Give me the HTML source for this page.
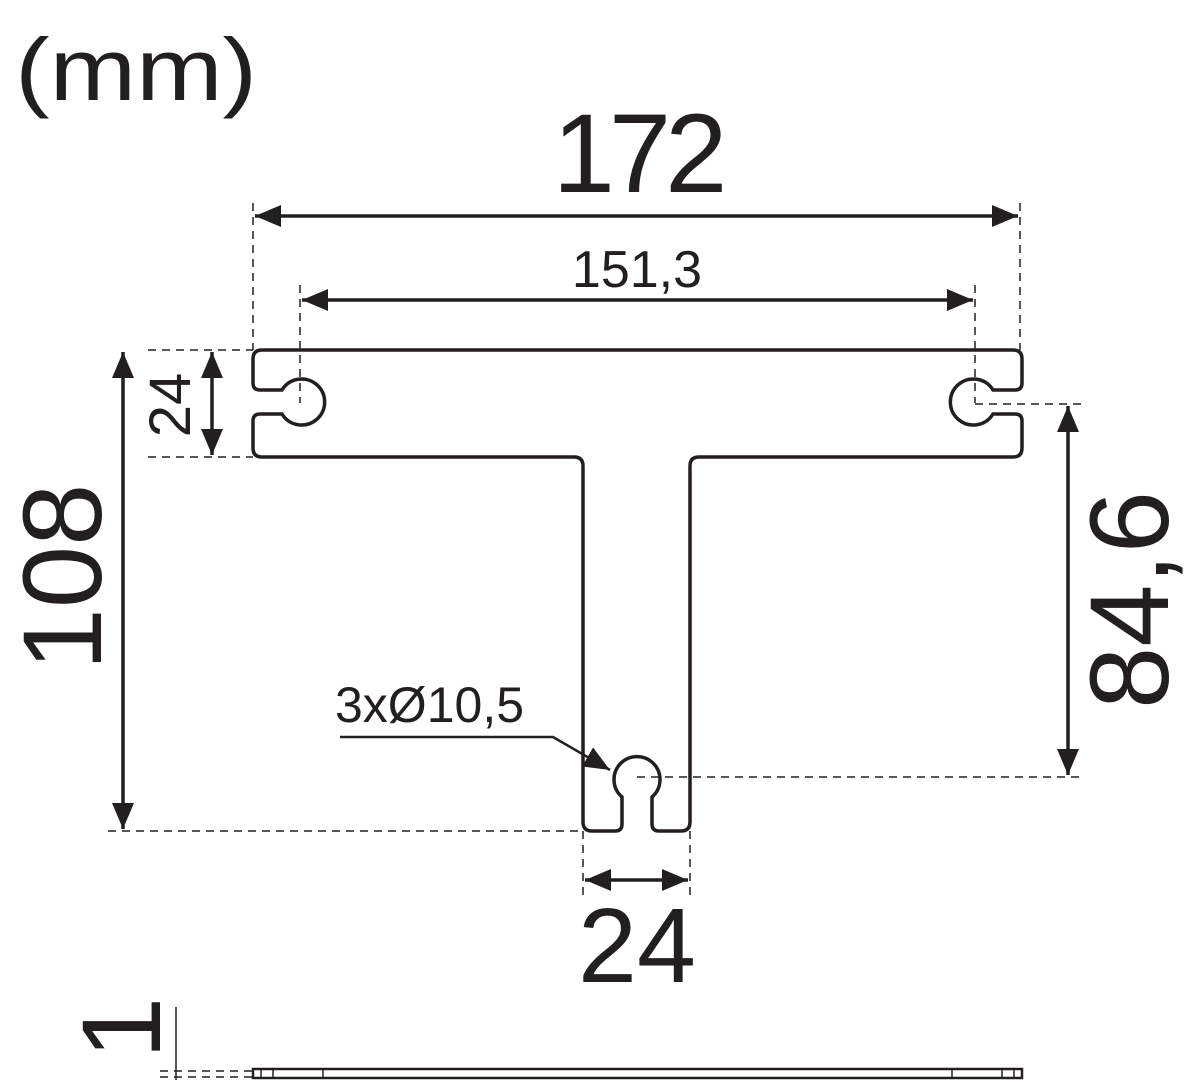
<!DOCTYPE html>
<html><head><meta charset="utf-8"><style>
html,body{margin:0;padding:0;background:#fff;}
svg{display:block;}
text{font-family:"Liberation Sans",sans-serif;fill:#231f20;}
</style></head><body>
<svg width="1200" height="1080" viewBox="0 0 1200 1080" xmlns="http://www.w3.org/2000/svg">
<defs>
<marker id="a" viewBox="0 0 26 22" refX="26" refY="11" markerWidth="26" markerHeight="22" markerUnits="userSpaceOnUse" orient="auto-start-reverse">
<path d="M0,0 L26,11 L0,22 z" fill="#231f20"/></marker>
</defs>
<g stroke="#231f20" fill="none">
<path stroke-width="3.5" d="M262,350 L1013,350 Q1022,350 1022,359 L1022,383 Q1022,390 1015,390 L993,390 A23,23 0 1 0 993,414 L1015,414 Q1022,414 1022,421 L1022,448 Q1022,457 1013,457 L699,457 Q690,457 690,466 L690,822 Q690,831 681,831 L659,831 Q652,831 652,824 L652,797 A23,23 0 1 0 622,797 L622,824 Q622,831 615,831 L592,831 Q583,831 583,822 L583,466 Q583,457 574,457 L262,457 Q253,457 253,448 L253,421 Q253,414 260,414 L282,414 A23,23 0 1 0 282,390 L260,390 Q253,390 253,383 L253,359 Q253,350 262,350 Z"/>
<g stroke-width="1.5" stroke-dasharray="8,6">
<line x1="253" y1="203" x2="253" y2="350"/>
<line x1="1020" y1="203" x2="1020" y2="350"/>
<line x1="300" y1="285" x2="300" y2="403"/>
<line x1="975" y1="285" x2="975" y2="403"/>
<line x1="148" y1="350" x2="253" y2="350"/>
<line x1="148" y1="457" x2="253" y2="457"/>
<line x1="108" y1="831" x2="583" y2="831"/>
<line x1="975" y1="404" x2="1085" y2="404"/>
<line x1="637" y1="777" x2="1085" y2="777"/>
<line x1="583" y1="831" x2="583" y2="895"/>
<line x1="690" y1="831" x2="690" y2="895"/>
<line x1="160" y1="1071" x2="253" y2="1071"/>
<line x1="160" y1="1077" x2="253" y2="1077"/>
</g>
<g stroke-width="3.5">
<line x1="255" y1="216" x2="1018" y2="216" marker-start="url(#a)" marker-end="url(#a)"/>
<line x1="302" y1="300" x2="973" y2="300" marker-start="url(#a)" marker-end="url(#a)"/>
<line x1="212" y1="352" x2="212" y2="455" marker-start="url(#a)" marker-end="url(#a)"/>
<line x1="123" y1="352" x2="123" y2="829" marker-start="url(#a)" marker-end="url(#a)"/>
<line x1="1068" y1="406" x2="1068" y2="775" marker-start="url(#a)" marker-end="url(#a)"/>
<line x1="585" y1="880" x2="688" y2="880" marker-start="url(#a)" marker-end="url(#a)"/>
<polyline stroke-width="2.5" points="340,737 553,737 610,770" marker-end="url(#a)"/>
</g>
<line x1="176" y1="1007" x2="176" y2="1080" stroke-width="1.5"/>
<rect x="253" y="1069" width="769" height="9" stroke-width="2.5"/>
<g stroke-width="1.5">
<line x1="261" y1="1069" x2="261" y2="1078"/><line x1="273" y1="1069" x2="273" y2="1078"/><line x1="323" y1="1069" x2="323" y2="1078"/>
<line x1="952" y1="1069" x2="952" y2="1078"/><line x1="1002" y1="1069" x2="1002" y2="1078"/><line x1="1014" y1="1069" x2="1014" y2="1078"/>
</g>
</g>
<text transform="translate(15,100) scale(1.18,1)" font-size="88">(mm)</text>
<text x="637" y="192" font-size="112" text-anchor="middle" letter-spacing="-6">172</text>
<text x="637" y="287" font-size="52" text-anchor="middle">151,3</text>
<text x="335" y="722" font-size="50">3xØ10,5</text>
<text x="637" y="982" font-size="106" text-anchor="middle">24</text>
<text transform="translate(190,405) rotate(-90)" font-size="58" text-anchor="middle">24</text>
<text transform="translate(101,577) rotate(-90)" font-size="112" text-anchor="middle">108</text>
<text transform="translate(1168,600) rotate(-90)" font-size="112" text-anchor="middle">84,6</text>
<text transform="translate(160,1028) rotate(-90)" font-size="112" text-anchor="middle">1</text>
</svg>
</body></html>
